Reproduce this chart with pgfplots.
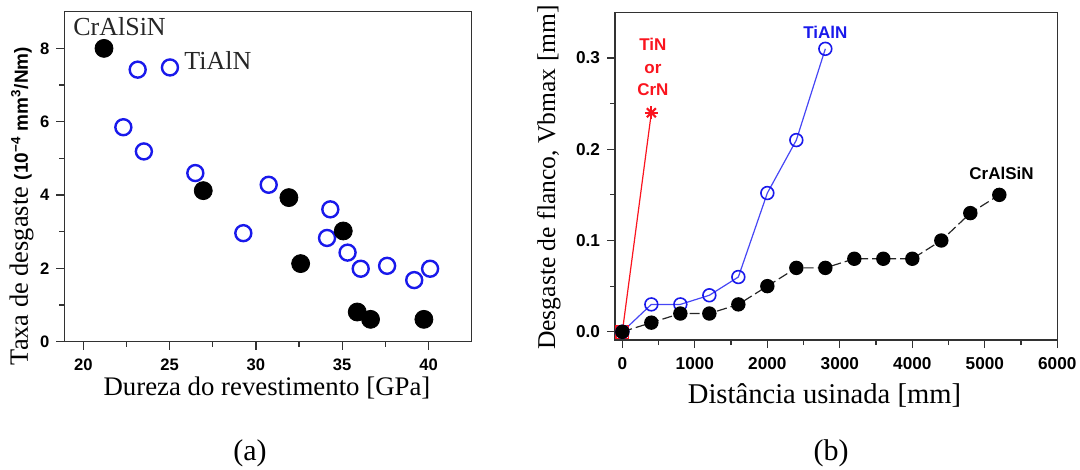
\documentclass[border=0pt]{standalone}
\usepackage{fontspec}
\setmainfont{Liberation Serif}
\setsansfont{Liberation Sans}
\usepackage{pgfplots}
\pgfplotsset{compat=1.18}
\definecolor{myblue}{RGB}{25,25,235}
\definecolor{lineblue}{RGB}{70,70,245}
\definecolor{myred}{RGB}{250,20,30}
\definecolor{axgray}{RGB}{50,50,50}

\begin{document}
\begin{tikzpicture}
\path[use as bounding box] (0,0) rectangle (540pt,-235pt);
\pgfplotsset{
  common/.style={
    scale only axis,
    anchor=south west,
    axis line style={axgray, line width=0.75pt},
    every tick/.style={axgray, line width=0.6pt},
    tick align=outside,
    tick pos=left,
    major tick length=4pt,
    minor tick length=2.5pt,
    /pgf/number format/assume math mode=true,
    xticklabel style={yshift=-1pt},
    clip=false,
  }
}
% ---------------- (a) ----------------
\begin{axis}[common,
  at={(32.15pt,-170.85pt)}, width=203.7pt, height=165pt,
  xmin=18.9, xmax=42.5, ymin=0, ymax=9,
  xtick={20,25,30,35,40}, ytick={0,2,4,6,8},
  minor x tick num=1, minor y tick num=1,
  ticklabel style={font=\sffamily\bfseries\fontsize{8.3}{9.5}\selectfont, text=black},
  xlabel={Dureza do revestimento [GPa]},
  xlabel style={at={(rel axis cs:0.4975,-0.14)}, anchor=center, font=\fontsize{13.4}{15}\selectfont},
  ylabel={Taxa de desgaste {\sffamily\bfseries\fontsize{9.5}{11}\selectfont (10\textsuperscript{\char"2212 4} mm\textsuperscript{3}/Nm)}},
  ylabel style={at={(rel axis cs:-0.1046,0.411)}, anchor=center, font=\fontsize{13.2}{15}\selectfont},
]
\addplot[only marks, mark=o, mark size=4pt, myblue, line width=1.2pt] coordinates {
(23.15,7.42) (25.02,7.48) (22.32,5.85) (23.51,5.19) (26.49,4.60) (30.74,4.28)
(29.27,2.96) (34.31,3.61) (34.12,2.83) (35.31,2.43) (36.07,1.99) (37.60,2.07)
(39.17,1.68) (40.09,1.99)};
\addplot[only marks, mark=*, mark size=4.5pt, black] coordinates {
(21.2,8.0) (26.95,4.12) (31.91,3.93) (32.59,2.13) (35.06,3.02) (35.87,0.81)
(36.64,0.61) (39.73,0.61)};
\node[font=\fontsize{13}{15}\selectfont, text=black!85] at (axis cs:22.1,8.6) {CrAlSiN};
\node[font=\fontsize{13}{15}\selectfont, text=black!85] at (axis cs:27.8,7.67) {TiAlN};
\end{axis}

% ---------------- (b) ----------------
\begin{axis}[common,
  at={(307.55pt,-170pt)}, width=221.1pt, height=163.85pt,
  xmin=-100, xmax=6000, ymin=-0.009, ymax=0.35,
  xtick={0,1000,2000,3000,4000,5000,6000}, ytick={0,0.1,0.2,0.3},
  minor x tick num=1, minor y tick num=1,
  scaled ticks=false,
  ticklabel style={font=\sffamily\bfseries\fontsize{8.6}{10}\selectfont, text=black},
  xticklabel style={/pgf/number format/1000 sep={}},
  yticklabel style={/pgf/number format/fixed, /pgf/number format/fixed zerofill, /pgf/number format/precision=1},
  xlabel={Distância usinada [mm]},
  xlabel style={at={(rel axis cs:0.4735,-0.168)}, anchor=center, font=\fontsize{14.3}{16}\selectfont},
  ylabel={Desgaste de flanco, Vbmax [mm]},
  ylabel style={at={(rel axis cs:-0.150,0.496)}, anchor=center, font=\fontsize{12.8}{15}\selectfont},
]
\addplot[myred, line width=0.6pt, mark=none] coordinates {(0,0) (400,0.24)};
\addplot[only marks, myred, mark=+, mark size=3.2pt, line width=1.1pt] coordinates {(400,0.24)};
\addplot[only marks, myred, mark=x, mark size=3.2pt, line width=1.1pt] coordinates {(400,0.24)};
\addplot[only marks, myred, mark=square, mark size=3.2pt, line width=0.6pt] coordinates {(0,0)};
\addplot[lineblue, line width=0.6pt, mark=o, mark size=3.2pt, mark options={solid, line width=0.8pt, fill=white, draw=myblue}] coordinates {
(0,0) (400,0.03) (800,0.03) (1200,0.04) (1600,0.06) (2000,0.152) (2400,0.21) (2800,0.31)};
\addplot[black!85, line width=0.6pt, dash pattern=on 5pt off 2pt, mark=*, mark size=3.3pt, mark options={solid, black, fill=black}] coordinates {
(0,0) (400,0.01) (800,0.02) (1200,0.02) (1600,0.03) (2000,0.05) (2400,0.07) (2800,0.07)
(3200,0.08) (3600,0.08) (4000,0.08) (4400,0.10) (4800,0.13) (5200,0.15)};
\node[font=\sffamily\bfseries\fontsize{8.5}{11.25}\selectfont, text=myred, align=center] at (axis cs:421,0.2898) {TiN\\or\\CrN};
\node[font=\sffamily\bfseries\fontsize{8.5}{10}\selectfont, text=myblue] at (axis cs:2800,0.3275) {TiAlN};
\node[font=\sffamily\bfseries\fontsize{8.5}{10}\selectfont, text=black] at (axis cs:5230,0.1739) {CrAlSiN};
\end{axis}

\node[font=\fontsize{15}{17}\selectfont] at (125pt,-226.5pt) {(a)};
\node[font=\fontsize{15}{17}\selectfont] at (415.5pt,-226.5pt) {(b)};
\end{tikzpicture}
\end{document}
